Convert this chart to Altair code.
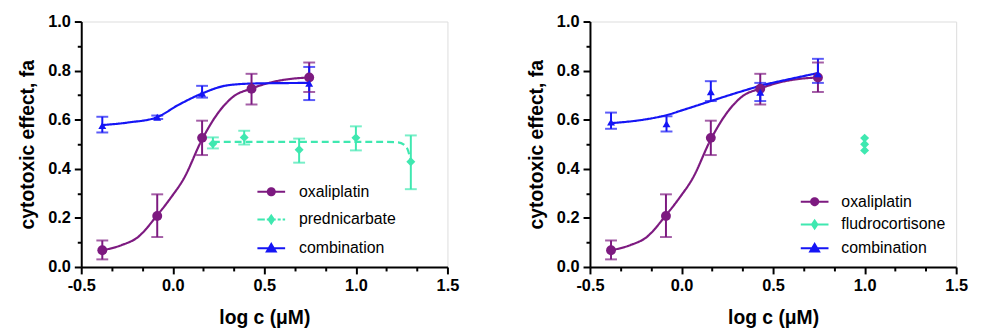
import math
import altair as alt
import pandas as pd

FONT = "Liberation Sans"

# ---------------- data ----------------
ox_x = [-0.385, -0.085, 0.16, 0.43, 0.745]
ox_y = [0.068, 0.208, 0.526, 0.726, 0.772]
ox_lo = [0.031, 0.122, 0.456, 0.662, 0.713]
ox_hi = [0.108, 0.296, 0.596, 0.787, 0.833]
ox_fit_x = [-0.385, -0.28, -0.19, -0.09, -0.01, 0.06, 0.16, 0.24, 0.33, 0.43, 0.53, 0.63, 0.745]
ox_fit_y = [0.068, 0.089, 0.122, 0.206, 0.283, 0.36, 0.52, 0.62, 0.694, 0.727, 0.751, 0.765, 0.772]

pred_x = [0.219, 0.39, 0.69, 1.0, 1.3]
pred_y = [0.502, 0.528, 0.478, 0.526, 0.429]
pred_lo = [0.483, 0.499, 0.425, 0.475, 0.317]
pred_hi = [0.528, 0.555, 0.523, 0.573, 0.536]
pred_fit_x = [0.219, 0.5, 0.8, 1.1, 1.23, 1.265, 1.285, 1.3]
pred_fit_y = [0.51, 0.51, 0.51, 0.51, 0.508, 0.497, 0.474, 0.429]

comb1_x = [-0.385, -0.085, 0.16, 0.745]
comb1_y = [0.576, 0.61, 0.708, 0.748]
comb1_lo = [0.548, 0.603, 0.69, 0.68]
comb1_hi = [0.612, 0.617, 0.738, 0.815]
comb1_fit_x = [-0.385, -0.24, -0.09, 0.03, 0.16, 0.29, 0.42, 0.58, 0.745]
comb1_fit_y = [0.578, 0.589, 0.609, 0.66, 0.707, 0.739, 0.747, 0.749, 0.75]

fludro_x = [1.0, 1.0, 1.0]
fludro_y = [0.525, 0.5, 0.475]

comb2_x = [-0.385, -0.082, 0.16, 0.43, 0.745]
comb2_y = [0.59, 0.583, 0.714, 0.712, 0.787]
comb2_lo = [0.563, 0.552, 0.676, 0.676, 0.75]
comb2_hi = [0.629, 0.614, 0.757, 0.75, 0.848]
comb2_fit_x = [-0.385, -0.2, -0.08, 0.01, 0.16, 0.33, 0.44, 0.6, 0.745]
comb2_fit_y = [0.586, 0.601, 0.619, 0.64, 0.676, 0.716, 0.74, 0.767, 0.79]

x_ticks = [round(-0.5 + i / 6, 6) for i in range(13)]
y_ticks = [round(i / 10, 6) for i in range(11)]

PURPLE = "#7d1a80"
MINT = "#3fe8b0"
BLUE = "#1515f5"


# ---------------- helpers ----------------
def poly(r, n, ry=None):
    ry = r if ry is None else ry
    pts = []
    for k in range(n):
        a = 2 * math.pi * k / n
        pts.append(f"{r*math.cos(a):.3f},{ry*math.sin(a):.3f}")
    return "M" + "L".join(pts) + "Z"


LINE = "M-2.8,0H2.8"
DASHED = "M-2.8,0H-1.3M-0.9,0H0.9M1.3,0H1.9M2.3,0H2.8"
CIRCLE = poly(0.72, 18)
DIAMOND = "M0,-0.8L0.55,0L0,0.8L-0.55,0Z"
TRIANGLE = "M0,-0.85L0.9,0.65L-0.9,0.65Z"

maj_x = "abs(datum.value*2-round(datum.value*2))<0.001"
maj_y = "abs(datum.value*5-round(datum.value*5))<0.001"

common_axis = dict(
    grid=False, domainColor="black", domainWidth=2, tickColor="black", tickWidth=2,
    labelFont=FONT, labelFontSize=16.5, labelFontWeight="bold", labelColor="black",
    titleFont=FONT, titleFontSize=19.5, titleFontWeight="bold", titleColor="black",
    labelOverlap=False, labelFlush=False,
)

xaxis = alt.Axis(
    values=x_ticks,
    labelExpr=f"{maj_x} ? (datum.value < 0 ? '-' : '') + format(abs(datum.value), '.1f') : ''",
    tickSize={"condition": {"test": maj_x, "value": 7}, "value": 4},
    labelPadding=4, titlePadding=15, **common_axis,
)
yaxis = alt.Axis(
    values=y_ticks,
    labelExpr=f"{maj_y} ? format(datum.value, '.1f') : ''",
    tickSize={"condition": {"test": maj_y, "value": 7}, "value": 4},
    labelPadding=4, titlePadding=10, **common_axis,
)
xs = alt.Scale(domain=[-0.5, 1.5], nice=False, zero=False)
ys = alt.Scale(domain=[0, 1], nice=False)
XT = "log c (\u03bcM)"
YT = "cytotoxic effect, fa"


def build_panel(names, colors, shapes, sizes, dashes, leg_paths, pts, errs, fits, leg_x, leg_y, row_pad, lab_off):
    pts_df = pd.DataFrame(pts)
    err_df = pd.DataFrame(errs)
    caps_df = pd.concat([
        err_df[["series", "x", "lo"]].rename(columns={"lo": "cap"}),
        err_df[["series", "x", "hi"]].rename(columns={"hi": "cap"}),
    ])
    fit_df = pd.DataFrame(fits)

    cs = alt.Scale(domain=names, range=colors)
    X = alt.X("x:Q", scale=xs, axis=xaxis, title=XT)
    color = alt.Color("series:N", scale=cs, legend=None)

    fit = alt.Chart(fit_df).mark_line(interpolate="monotone", strokeWidth=2.2).encode(
        x=X, y=alt.Y("y:Q", scale=ys, axis=yaxis, title=YT), color=color,
        strokeDash=alt.StrokeDash("series:N", scale=alt.Scale(domain=names, range=dashes), legend=None),
        order="i:Q",
    )
    stems = alt.Chart(err_df).mark_rule(strokeWidth=2).encode(
        x=X, y=alt.Y("lo:Q", scale=ys, axis=yaxis, title=YT), y2="hi:Q", color=color,
    )
    caps = alt.Chart(caps_df).mark_tick(orient="horizontal", size=12, thickness=2).encode(
        x=X, y=alt.Y("cap:Q", scale=ys, axis=yaxis, title=YT), color=color,
    )
    points = alt.Chart(pts_df).mark_point(filled=True, opacity=1).encode(
        x=X, y=alt.Y("y:Q", scale=ys, axis=yaxis, title=YT), color=color,
        shape=alt.Shape("series:N", scale=alt.Scale(domain=names, range=shapes), legend=None),
        size=alt.Size("series:N", scale=alt.Scale(domain=names, range=sizes), legend=None),
    )
    leg = alt.Legend(
        title=None, orient="none", legendX=leg_x, legendY=leg_y,
        labelFont=FONT, labelFontSize=16, labelColor="black", labelLimit=0,
        symbolSize=100, symbolStrokeWidth=2, symbolOpacity=1, rowPadding=row_pad, labelOffset=lab_off,
        padding=0,
    )
    leg_layer = alt.Chart(pd.DataFrame({"series": names})).mark_point(
        filled=True, size=100, strokeWidth=2, clip=True, opacity=1
    ).encode(
        x=alt.value(-300), y=alt.value(-300),
        fill=alt.Fill("series:N", scale=alt.Scale(domain=names, range=colors), legend=leg),
        stroke=alt.Stroke("series:N", scale=alt.Scale(domain=names, range=colors), legend=leg),
        shape=alt.Shape("series:N", scale=alt.Scale(domain=names, range=leg_paths), legend=leg),
    )
    return alt.layer(fit, stems, caps, points, leg_layer).resolve_scale(
        shape="independent", fill="independent", stroke="independent"
    ).properties(width=370, height=248)


def rows(series, xs_, ys_):
    return [{"series": series, "x": a, "y": b} for a, b in zip(xs_, ys_)]


def erows(series, xs_, lo, hi):
    return [{"series": series, "x": a, "lo": l, "hi": h} for a, l, h in zip(xs_, lo, hi)]


def frows(series, xs_, ys_):
    return [{"series": series, "x": a, "y": b, "i": i} for i, (a, b) in enumerate(zip(xs_, ys_))]


left = build_panel(
    ["oxaliplatin", "prednicarbate", "combination"],
    [PURPLE, MINT, BLUE],
    ["circle", "diamond", "triangle-up"],
    [100, 64, 130],
    [[1, 0], [7, 4], [1, 0]],
    [LINE + CIRCLE, DASHED + DIAMOND, LINE + TRIANGLE],
    rows("oxaliplatin", ox_x, ox_y) + rows("prednicarbate", pred_x, pred_y) + rows("combination", comb1_x, comb1_y),
    erows("oxaliplatin", ox_x, ox_lo, ox_hi) + erows("prednicarbate", pred_x, pred_lo, pred_hi)
    + erows("combination", comb1_x, comb1_lo, comb1_hi),
    frows("oxaliplatin", ox_fit_x, ox_fit_y) + frows("prednicarbate", pred_fit_x, pred_fit_y)
    + frows("combination", comb1_fit_x, comb1_fit_y),
    184, 164, 12, 20,
)

right = build_panel(
    ["oxaliplatin", "fludrocortisone", "combination"],
    [PURPLE, MINT, BLUE],
    ["circle", "diamond", "triangle-up"],
    [100, 64, 130],
    [[1, 0], [1, 0], [1, 0]],
    [LINE + CIRCLE, LINE + DIAMOND, LINE + TRIANGLE],
    rows("oxaliplatin", ox_x, ox_y) + rows("fludrocortisone", fludro_x, fludro_y) + rows("combination", comb2_x, comb2_y),
    erows("oxaliplatin", ox_x, ox_lo, ox_hi) + erows("combination", comb2_x, comb2_lo, comb2_hi),
    frows("oxaliplatin", ox_fit_x, ox_fit_y) + frows("combination", comb2_fit_x, comb2_fit_y),
    219, 174, 7, 19,
)

chart = alt.hconcat(left, right, spacing=67).resolve_scale(
    color="independent", shape="independent", size="independent", strokeDash="independent",
    fill="independent", stroke="independent",
).properties(
    padding={"left": 9, "top": 3, "right": 5, "bottom": 0}
).configure_view(stroke=None).configure(background="white")

chart.save("out.html", embed_options={"renderer": "svg", "actions": False})
